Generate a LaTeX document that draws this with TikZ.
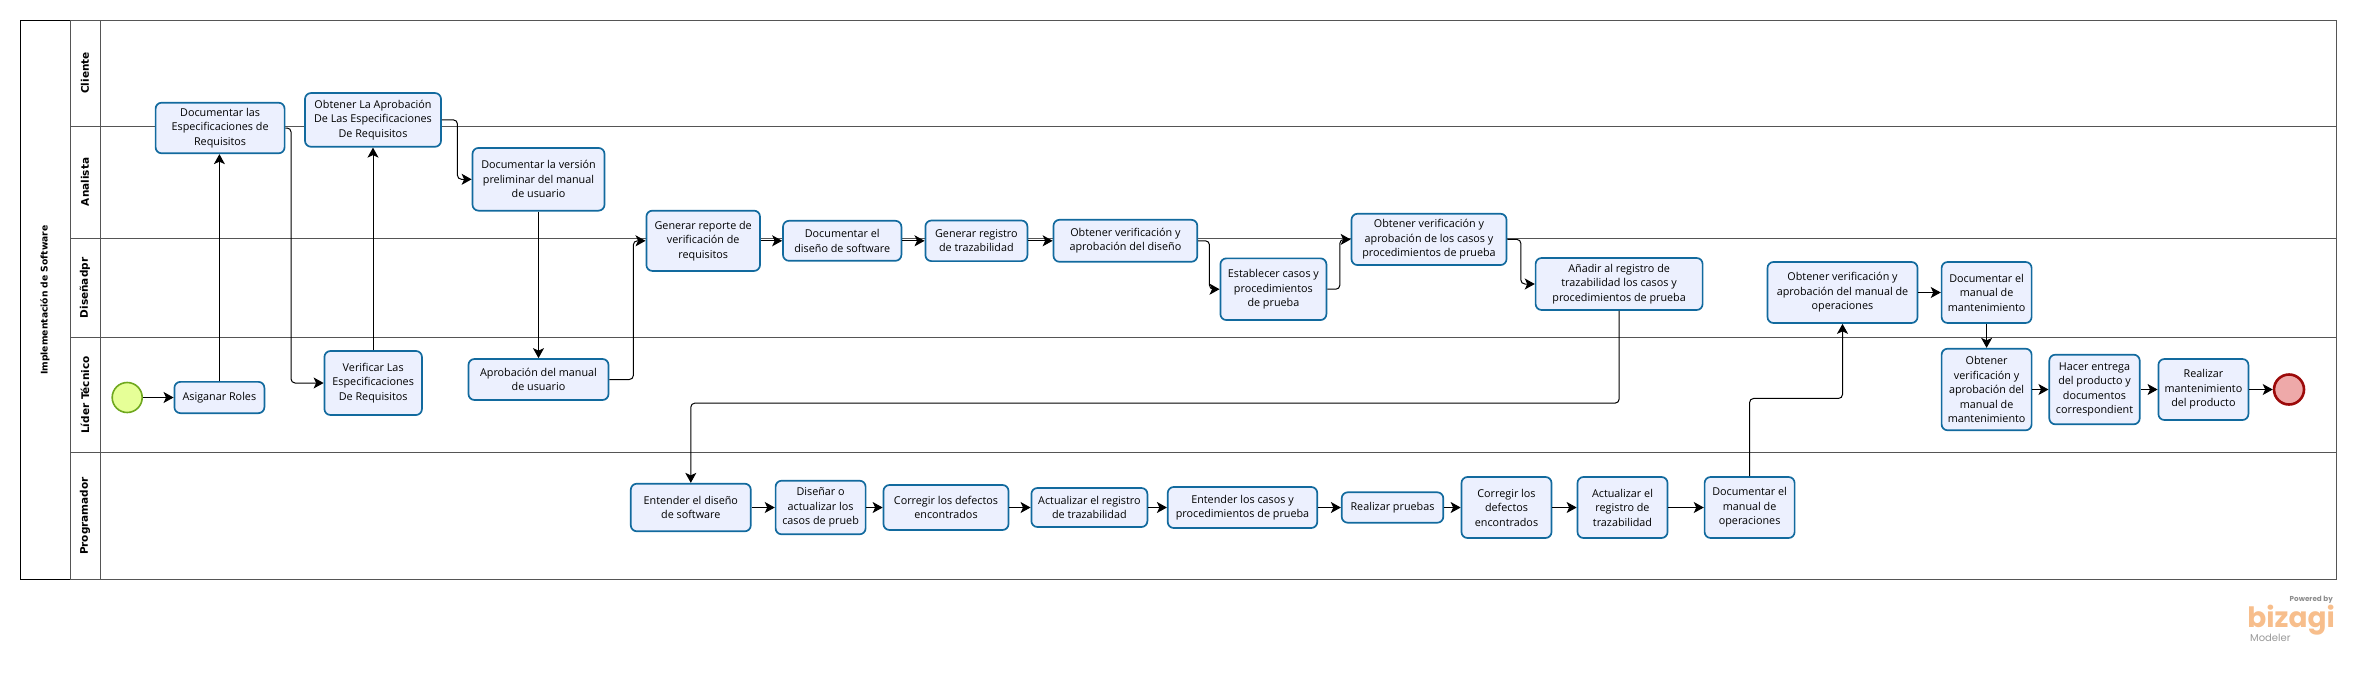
\documentclass[tikz,border=0pt]{standalone}
\usepackage{fontspec}
\setmainfont{Open Sans}
\newfontfamily\carrilfont{DejaVu Sans}
\newfontfamily\logofont{Poppins}
\usetikzlibrary{arrows.meta}
\definecolor{tareaborde}{RGB}{18,106,158}
\definecolor{tareafondo}{RGB}{236,240,254}
\definecolor{carril}{RGB}{85,85,85}
\definecolor{logonaranja}{RGB}{247,190,140}
\definecolor{inicioborde}{RGB}{111,168,30}
\definecolor{iniciofondo}{RGB}{230,255,151}
\definecolor{finborde}{RGB}{156,10,10}
\definecolor{finfondo}{RGB}{238,169,169}
\tikzstyle{tarea} = [draw=tareaborde, fill=tareafondo, rounded corners=6pt, line width=1.7pt, align=center, font=\fontsize{10.8}{14.5}\selectfont, inner sep=0pt]
\tikzstyle{inicio} = [draw=inicioborde, fill=iniciofondo, circle, line width=1.6pt, minimum size=30pt, inner sep=0pt]
\tikzstyle{fin} = [draw=finborde, fill=finfondo, circle, line width=2.6pt, minimum size=30pt, inner sep=0pt]
\tikzstyle{rotulo} = [rotate=90, font=\fontsize{10.5}{12}\carrilfont\bfseries]
\tikzstyle{flujo} = [->, line width=1pt, rounded corners=4pt]

\begin{document}
\begin{tikzpicture}[x=1pt, y=-1pt, node distance=100pt, >={Stealth[length=10pt,width=11pt,inset=2.5pt]}]

  \useasboundingbox (0,0) rectangle (2356,672);

  % The pool and its lanes go first so that the tasks cover the lines.
    \draw [black, line width=1pt] (20.4,20.3) rectangle (70.4,579.3);
    \draw [carril, line width=1pt] (70.4,20.3) rectangle (2336.7,579.3);
    \draw [carril, line width=1pt] (100.5,20.3) -- (100.5,579.3);
    \draw [carril, line width=1pt] (70.4,126.3) -- (2336.7,126.3);
    \draw [carril, line width=1pt] (70.4,238.3) -- (2336.7,238.3);
    \draw [carril, line width=1pt] (70.4,337.3) -- (2336.7,337.3);
    \draw [carril, line width=1.3pt] (70.4,452.7) -- (2336.7,452.7);

    \node [rotulo, font=\fontsize{9.2}{12}\carrilfont\bfseries] (proceso) at (45,300) {Implementación de Software};
    \node [rotulo] (cliente) at (85,73) {Cliente};
    \node [rotulo] (analista) at (85,182) {Analista};
    \node [rotulo] (disenador) at (85,288) {Diseñadpr};
    \node [rotulo] (lider) at (85,395) {Líder Técnico};
    \node [rotulo] (programador) at (85,516) {Programador};

    % Lider Tecnico
    \node [inicio] (arranque) at (127.2,397.5) {};
    \node [tarea, minimum width=90pt, minimum height=31.3pt, right of=arranque, node distance=92.2pt] (asignar) {Asiganar Roles};
    \node [tarea, minimum width=97.5pt, minimum height=64pt] (verificar) at (373.2,383) {Verificar Las\\Especificaciones\\De Requisitos};
    \node [tarea, minimum width=140pt, minimum height=41pt] (aprobacion) at (538.5,379.5) {Aprobación del manual\\de usuario};

    % Analista
    \node [tarea, minimum width=129pt, minimum height=50.6pt] (documentar) at (220.1,128) {Documentar las\\Especificaciones de\\Requisitos};
    \node [tarea, minimum width=136pt, minimum height=53.7pt] (aprobar) at (373,119.9) {Obtener La Aprobación\\De Las Especificaciones\\De Requisitos};
    \node [tarea, minimum width=132pt, minimum height=62.7pt] (version) at (538.5,179.3) {Documentar la versión\\preliminar del manual\\de usuario};

    % Disenador
    \node [tarea, minimum width=113.6pt, minimum height=60.3pt] (reporte) at (703.2,240.8) {Generar reporte de\\verificación de\\requisitos};
    \node [tarea, minimum width=118.4pt, minimum height=40pt, right of=reporte, node distance=139pt] (diseno) {Documentar el\\diseño de software};
    \node [tarea, minimum width=102pt, minimum height=40.6pt, right of=diseno, node distance=134.2pt] (registro) {Generar registro\\de trazabilidad};
    \node [tarea, minimum width=143.8pt, minimum height=42pt, right of=registro, node distance=149pt] (verdiseno) {Obtener verificación y\\aprobación del diseño};
    \node [tarea, minimum width=106pt, minimum height=61.7pt] (casos) at (1273.4,289.2) {Establecer casos y\\procedimientos\\de prueba};
    \node [tarea, minimum width=155pt, minimum height=51.3pt] (vercasos) at (1429,239.4) {Obtener verificación y\\aprobación de los casos y\\procedimientos de prueba};
    \node [tarea, minimum width=167pt, minimum height=52pt] (anadir) at (1619.1,284) {Añadir al registro de\\trazabilidad los casos y\\procedimientos de prueba};
    \node [tarea, minimum width=150pt, minimum height=61pt] (veroper) at (1842.5,292.5) {Obtener verificación y\\aprobación del manual de\\operaciones};
    \node [tarea, minimum width=90pt, minimum height=61pt, right of=veroper, node distance=144.1pt] (mantener) {Documentar el\\manual de\\mantenimiento};

    % Salida, otra vez en Lider Tecnico
    \node [tarea, minimum width=90pt, minimum height=81.6pt] (vermant) at (1986.6,389.5) {Obtener\\verificación y\\aprobación del\\manual de\\mantenimiento};
    \node [tarea, minimum width=90.4pt, minimum height=69.6pt, right of=vermant, node distance=107.9pt] (entrega) {Hacer entrega\\del producto y\\documentos\\correspondient};
    \node [tarea, minimum width=90pt, minimum height=61pt, right of=entrega, node distance=108.9pt] (realizar) {Realizar\\mantenimiento\\del producto};
    \node [fin, right of=realizar, node distance=85.6pt] (final) {};

    % Programador
    \node [tarea, minimum width=120pt, minimum height=47.6pt] (entender) at (690.8,507.5) {Entender el diseño\\de software};
    \node [tarea, minimum width=90pt, minimum height=53.6pt, right of=entender, node distance=129.8pt] (disenar) {Diseñar o\\actualizar los\\casos de prueb};
    \node [tarea, minimum width=125pt, minimum height=45pt, right of=disenar, node distance=125.4pt] (corregir) {Corregir los defectos\\encontrados};
    \node [tarea, minimum width=116pt, minimum height=39pt, right of=corregir, node distance=143.4pt] (actualizar) {Actualizar el registro\\de trazabilidad};
    \node [tarea, minimum width=149.5pt, minimum height=41pt, right of=actualizar, node distance=153.1pt] (entcasos) {Entender los casos y\\procedimientos de prueba};
    \node [tarea, minimum width=101.6pt, minimum height=30.4pt, right of=entcasos, node distance=150pt] (pruebas) {Realizar pruebas};
    \node [tarea, minimum width=90pt, minimum height=61pt, right of=pruebas, node distance=114pt] (corrdos) {Corregir los\\defectos\\encontrados};
    \node [tarea, minimum width=90pt, minimum height=61pt, right of=corrdos, node distance=116pt] (actdos) {Actualizar el\\registro de\\trazabilidad};
    \node [tarea, minimum width=90pt, minimum height=61pt, right of=actdos, node distance=127.1pt] (operacion) {Documentar el\\manual de\\operaciones};

    \node [text=black!45, font=\fontsize{7.2}{8}\logofont\bfseries, anchor=east, inner sep=0pt] (powered) at (2333,600) {Powered by};
    \node [text=logonaranja, font=\fontsize{28}{30}\logofont\bfseries, anchor=base east, inner sep=0pt] (bizagi) at (2335,627) {bizagi};
    \node [text=black!40, font=\fontsize{10}{11}\logofont, anchor=west, inner sep=0pt] (modeler) at (2250,638) {Modeler};

% Once the tasks are placed, connecting them is easy.
    \draw [flujo] (arranque) -- (asignar);
    \draw [flujo] (asignar) -- (documentar.south -| asignar.north);
    \draw [flujo] (documentar.east) -- +(5.6,0) |- (verificar.west);
    \draw [flujo] (verificar.north -| aprobar.south) -- (aprobar.south);
    \draw [flujo] (aprobar.east) -- +(15.6,0) |- (version.west);
    \draw [flujo] (version) -- (aprobacion);
    \draw [flujo] (aprobacion.east) -- +(24,0) |- (reporte.west);
    \draw [flujo] (reporte) -- (diseno);
    \draw [flujo] (diseno) -- (registro);
    \draw [flujo] (registro) -- (verdiseno);
    \draw [flujo] (verdiseno.east) -- +(11.3,0) |- (casos.west);
    \draw [flujo] (casos.east) -- +(12.6,0) |- (vercasos.west);
    \draw [flujo] (vercasos.east) -- +(13.5,0) |- (anadir.west);
    \draw [flujo] (anadir.south) -- +(0,92.3) -| (entender.north);
    \draw [flujo] (entender) -- (disenar);
    \draw [flujo] (disenar) -- (corregir);
    \draw [flujo] (corregir) -- (actualizar);
    \draw [flujo] (actualizar) -- (entcasos);
    \draw [flujo] (entcasos) -- (pruebas);
    \draw [flujo] (pruebas) -- (corrdos);
    \draw [flujo] (corrdos) -- (actdos);
    \draw [flujo] (actdos) -- (operacion);
    \draw [flujo] (operacion.north) -- +(0,-77.7) -| (veroper.south);
    \draw [flujo] (veroper) -- (mantener);
    \draw [flujo] (mantener) -- (vermant);
    \draw [flujo] (vermant) -- (entrega);
    \draw [flujo] (entrega) -- (realizar);
    \draw [flujo] (realizar) -- (final);

  \end{tikzpicture}
\end{document}
